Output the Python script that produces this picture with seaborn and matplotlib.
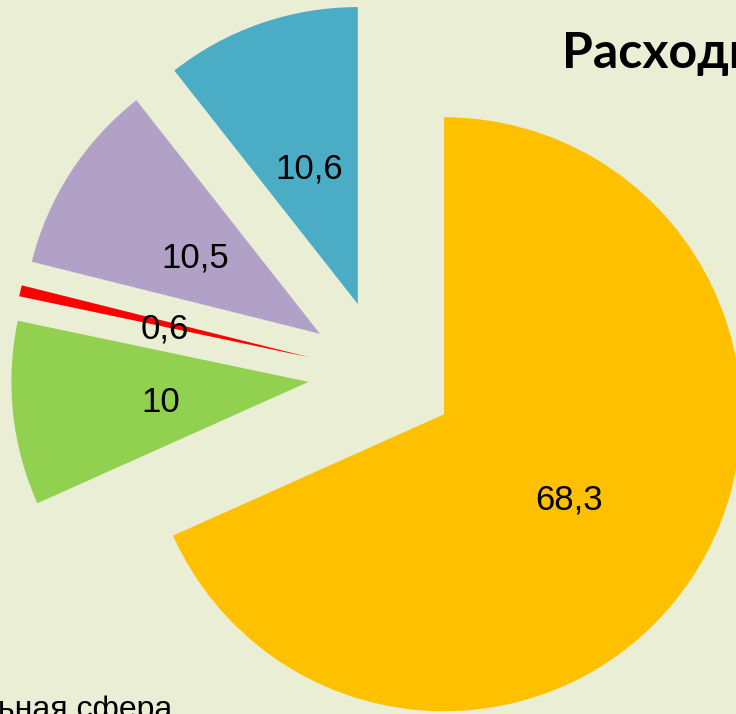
import seaborn as sns
import matplotlib.pyplot as plt

# shares of spending, clockwise from 12 o'clock
values = [68.3, 10, 0.6, 10.5, 10.6]
value_labels = ['68,3', '10', '0,6', '10,5', '10,6']
colors = ['#FFC000', '#92D050', '#FF0000', '#B2A1C7', '#4BACC6']
title = 'Расходы бюджета'
legend_text = 'Социальная сфера'

bg = '#EAEED5'

sns.set_theme(style="white")
plt.rcParams['font.family'] = ['Liberation Sans', 'DejaVu Sans']

fig = plt.figure(figsize=(7.36, 7.14), dpi=100, facecolor=bg)
ax = fig.add_axes([0, 0, 1, 1])
ax.set_facecolor(bg)

# explode is in data units here (axes units are pixels)
wedges, texts, autotexts = ax.pie(
    values,
    colors=sns.color_palette(colors),
    explode=[74] * len(values),
    startangle=90,
    counterclock=False,
    center=(382, 340),
    radius=297,
    autopct='%1.1f',
    pctdistance=0.5,
    wedgeprops=dict(linewidth=0),
    textprops=dict(fontsize=25, color='black'),
    frame=True,
)
for t, lab in zip(autotexts, value_labels):
    t.set_text(lab)
    x, y = t.get_position()
    t.set_position((x, y - 5))

ax.set_xlim(0, 736)
ax.set_ylim(0, 714)
ax.set_aspect('equal')
ax.axis('off')

# title, cut by the right edge as in the original slide
fig.text(562 / 736, 1 - 68 / 714, title, fontsize=36, fontweight='bold', color='black',
         family=['Lato', 'Open Sans', 'DejaVu Sans'], ha='left', va='baseline')

# legend entry, cut by the bottom-left corner
fig.text(172 / 736, -4 / 714, legend_text, fontsize=23, color='black',
         ha='right', va='baseline')

fig.savefig('out.png', dpi=100, facecolor=bg)
